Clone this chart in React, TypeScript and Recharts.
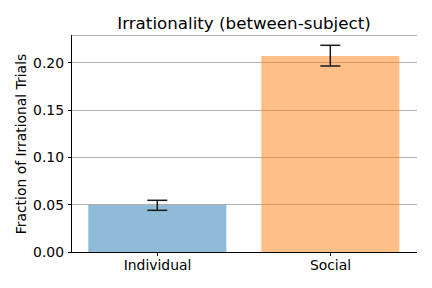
import React from 'react';
import { BarChart, Bar, XAxis, YAxis, CartesianGrid, ErrorBar, Cell } from 'recharts';

const categories = ['Individual', 'Social'];
const means = [0.0497, 0.2074];
const lowerBounds = [0.0441, 0.1968];
const upperBounds = [0.0547, 0.2187];
const colors = ['#1f77b4', '#ff7f0e'];
const yTicks = [0, 0.05, 0.1, 0.15, 0.2];
const yMax = 0.2296;

const data = categories.map((c, i) => ({
  name: c,
  value: means[i],
  err: [means[i] - lowerBounds[i], upperBounds[i] - means[i]],
}));

const FONT = 'DejaVu Sans';

export default function App() {
  return (
    <div style={{ position: 'absolute', left: 0, top: 0, width: 432, height: 288, background: '#fff' }}>
      <BarChart
        width={432}
        height={288}
        data={data}
        margin={{ top: 35, right: 15, left: 11, bottom: 6 }}
        barCategoryGap="10%"
      >
        <CartesianGrid vertical={false} horizontal stroke="#b0b0b0" strokeWidth={1} shapeRendering="crispEdges" />
        <XAxis
          dataKey="name"
          height={30}
          tickSize={3.5}
          tickMargin={4.5}
          stroke="#000"
          tick={{ fill: '#000', fontSize: 13.9, fontFamily: FONT }}
          tickLine={{ stroke: '#000', shapeRendering: 'crispEdges' }}
          axisLine={{ stroke: '#000', shapeRendering: 'crispEdges' }}
        />
        <XAxis xAxisId="top" orientation="top" dataKey="name" height={0} tick={false} tickLine={false} axisLine={{ stroke: '#000', shapeRendering: 'crispEdges' }} />
        <YAxis
          width={60}
          domain={[0, yMax]}
          ticks={yTicks}
          tickFormatter={(v: number) => v.toFixed(2)}
          tickSize={3.5}
          tickMargin={3.5}
          stroke="#000"
          tick={{ fill: '#000', fontSize: 13.9, fontFamily: FONT }}
          tickLine={{ stroke: '#000', shapeRendering: 'crispEdges' }}
          axisLine={{ stroke: '#000', shapeRendering: 'crispEdges' }}
          allowDataOverflow
        />
        <YAxis yAxisId="right" orientation="right" width={0} domain={[0, yMax]} tick={false} tickLine={false} axisLine={{ stroke: '#000', shapeRendering: 'crispEdges' }} />
        <Bar dataKey="value" isAnimationActive={false} fillOpacity={0.5}>
          {data.map((d, i) => (
            <Cell key={d.name} fill={colors[i]} />
          ))}
          <ErrorBar dataKey="err" width={10} stroke="#1a1a1a" strokeWidth={1.5} direction="y" />
        </Bar>
      </BarChart>
      <svg width={432} height={288} style={{ position: 'absolute', left: 0, top: 0, pointerEvents: 'none' }}>
        <text x={244} y={29} textAnchor="middle" fontFamily={FONT} fontSize={16.7} fill="#000">
          Irrationality (between-subject)
        </text>
        <text
          x={0}
          y={0}
          transform="translate(26,144) rotate(-90)"
          textAnchor="middle"
          fontFamily={FONT}
          fontSize={13.9}
          fill="#000"
        >
          Fraction of Irrational Trials
        </text>
      </svg>
    </div>
  );
}
